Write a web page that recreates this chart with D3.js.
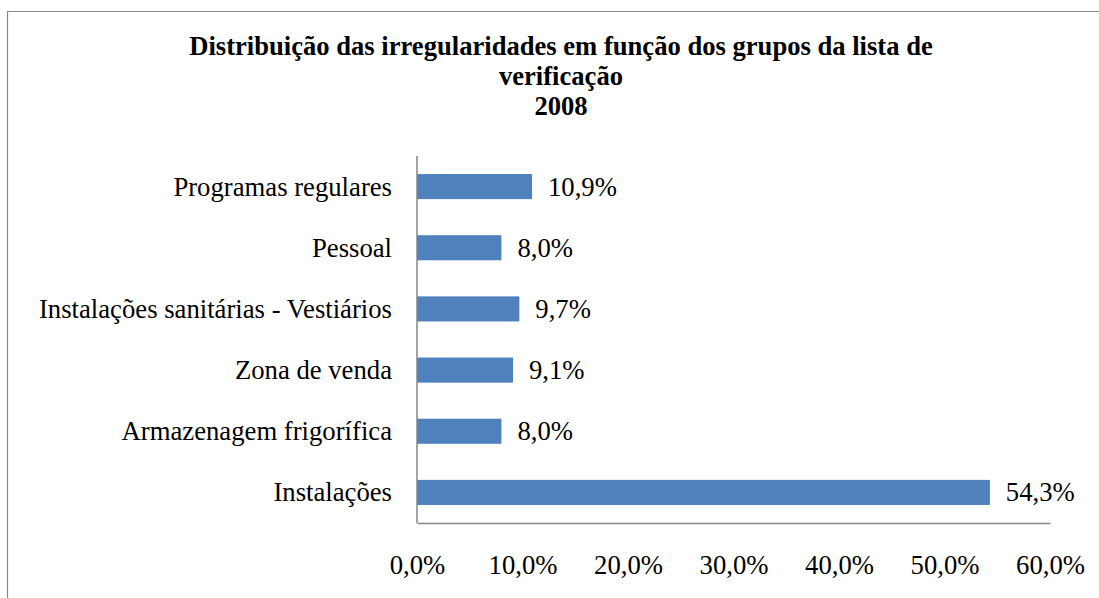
<!DOCTYPE html>
<html>
<head>
<meta charset="utf-8">
<script src="https://cdn.jsdelivr.net/npm/d3@7"></script>
<style>
  body { margin: 0; background: #fff; }
  text { font-family: "Liberation Serif", "Times New Roman", serif; fill: #000; }
</style>
</head>
<body>
<script>
// chart data, top to bottom
var categories = ["Programas regulares", "Pessoal", "Instalações sanitárias - Vestiários",
                  "Zona de venda", "Armazenagem frigorífica", "Instalações"];
var values = [10.9, 8.0, 9.7, 9.1, 8.0, 54.3];
var xTicks = [0, 10, 20, 30, 40, 50, 60];
var titleLines = ["Distribuição das irregularidades em função dos grupos da lista de",
                  "verificação", "2008"];

var W = 1099, H = 598;
var plot = {left: 417, right: 1050, top: 156, bottom: 523};
var fontSize = "26.7px";

var svg = d3.select("body").append("svg")
    .attr("width", W)
    .attr("height", H);

// chart frame (cut at right/bottom like the original)
svg.append("path")
    .attr("d", "M7.5," + H + "V11.5H" + W)
    .attr("fill", "none")
    .attr("stroke", "#868686")
    .attr("stroke-width", 1.2);

// title
svg.append("text")
    .attr("x", 561)
    .attr("y", 55)
    .attr("text-anchor", "middle")
    .style("font-weight", "bold")
    .style("font-size", "26.6px")
    .selectAll("tspan")
    .data(titleLines)
    .enter().append("tspan")
    .attr("x", 561)
    .attr("dy", function(d, i) { return i == 0 ? 0 : 30; })
    .text(function(d) { return d; });

var xScale = d3.scaleLinear().domain([0, 60]).range([plot.left, plot.right]);
var yScale = d3.scaleBand().domain(categories).range([plot.top, plot.bottom])
    .paddingInner(0.59).paddingOuter(0.295);

// bars
svg.selectAll("rect.bar")
    .data(values)
    .enter().append("rect").classed("bar", true)
    .attr("x", xScale(0))
    .attr("y", function(d, i) { return yScale(categories[i]); })
    .attr("width", function(d) { return xScale(d) - xScale(0); })
    .attr("height", yScale.bandwidth())
    .attr("fill", "#4F81BD");

// value labels
svg.selectAll("text.val")
    .data(values)
    .enter().append("text").classed("val", true)
    .attr("x", function(d) { return xScale(d) + 16; })
    .attr("y", function(d, i) { return yScale(categories[i]) + yScale.bandwidth() / 2 + 9; })
    .style("font-size", fontSize)
    .text(function(d) { return d.toFixed(1).replace(".", ",") + "%"; });

// category labels
svg.selectAll("text.cat")
    .data(categories)
    .enter().append("text").classed("cat", true)
    .attr("x", plot.left - 25)
    .attr("y", function(d) { return yScale(d) + yScale.bandwidth() / 2 + 9; })
    .attr("text-anchor", "end")
    .style("font-size", fontSize)
    .text(function(d) { return d; });

// x axis
var xAxis = d3.axisBottom(xScale)
    .tickValues(xTicks)
    .tickSize(0)
    .tickPadding(32)
    .tickFormat(function(d) { return d.toFixed(1).replace(".", ",") + "%"; });

var gx = svg.append("g")
    .attr("transform", "translate(0," + plot.bottom + ")")
    .call(xAxis);
gx.select(".domain").attr("stroke", "#868686").attr("stroke-width", 1.5);
gx.selectAll("text")
    .style("font-size", fontSize)
    .style("font-family", "Liberation Serif, serif");

// y axis line
svg.append("line")
    .attr("x1", plot.left).attr("x2", plot.left)
    .attr("y1", plot.top).attr("y2", plot.bottom)
    .attr("stroke", "#868686")
    .attr("stroke-width", 1.5);
</script>
</body>
</html>
